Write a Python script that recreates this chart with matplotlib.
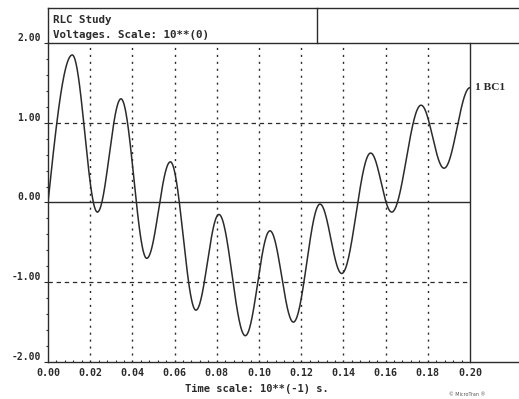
import numpy as np
import matplotlib
matplotlib.use("Agg")
import matplotlib.pyplot as plt
from matplotlib.lines import Line2D

# Extrema of the BC1 voltage trace (time in 10**-1 s, voltage in V)
extrema_t = [0.0, 0.0115, 0.0234, 0.0346, 0.0468, 0.0580, 0.0701, 0.0810, 0.0935,
             0.1052, 0.1163, 0.1289, 0.1392, 0.1529, 0.1629, 0.1768, 0.1877, 0.2000]
extrema_v = [0.0, 1.85, -0.12, 1.30, -0.70, 0.51, -1.35, -0.15, -1.67,
             -0.355, -1.50, -0.02, -0.89, 0.62, -0.12, 1.22, 0.43, 1.44]

x_ticks = [0.00, 0.02, 0.04, 0.06, 0.08, 0.10, 0.12, 0.14, 0.16, 0.18, 0.20]
x_tick_labels = ["0.00", "0.02", "0.04", "0.06", "0.08", "0.10",
                 "0.12", "0.14", "0.16", "0.18", "0.20"]
y_ticks = [-2.0, -1.0, 0.0, 1.0, 2.0]
y_tick_labels = ["-2.00", "-1.00", "0.00", "1.00", "2.00"]

INK = "#2b2b2b"
MONO = dict(family="DejaVu Sans Mono", weight="bold")

W, H = 519, 399
fig = plt.figure(figsize=(W / 100, H / 100), dpi=100)
fig.patch.set_facecolor("white")

x0, x1, ytop, ybot = 48, 470, 43, 362
ax = fig.add_axes([x0 / W, 1 - ybot / H, (x1 - x0) / W, (ybot - ytop) / H])
ax.set_xlim(0, 0.2)
ax.set_ylim(-2, 2)
for s in ax.spines.values():
    s.set_visible(False)

# smooth trace: sine rise from the origin, cosine swings between extrema
tt, vv = [], []
for i in range(len(extrema_t) - 1):
    ta, tb = extrema_t[i], extrema_t[i + 1]
    va, vb = extrema_v[i], extrema_v[i + 1]
    u = np.linspace(0, 1, 60)
    if i == 0:
        s = np.sin(u * np.pi / 2)
    else:
        s = (1 - np.cos(u * np.pi)) / 2
    tt.append(ta + (tb - ta) * u)
    vv.append(va + (vb - va) * s)
tt = np.concatenate(tt)
vv = np.concatenate(vv)

# grid
for xv in x_ticks[1:-1]:
    ax.plot([xv, xv], [-2, 2], color=INK, lw=1.0, ls=(0, (1.5, 3.5)), zorder=1)
for yv in (-1.0, 1.0):
    ax.plot([0, 0.2], [yv, yv], color=INK, lw=0.9, ls=(0, (3.5, 3)), zorder=1)
ax.plot([0, 0.2], [0, 0], color=INK, lw=1.0, zorder=2)

ax.plot(tt, vv, color=INK, lw=1.1, zorder=3)

# ticks
ax.set_xticks(x_ticks)
ax.set_xticklabels(x_tick_labels, fontsize=7.2, color=INK, **MONO)
ax.set_yticks(y_ticks)
ax.set_yticklabels(y_tick_labels, fontsize=7.0, color=INK, va="bottom", **MONO)
ax.tick_params(axis="x", length=0, pad=4)
ax.tick_params(axis="y", length=3, width=0.8, color=INK, pad=2)
ax.set_xticks(np.arange(0, 0.2001, 0.004), minor=True)
ax.set_yticks(np.arange(-2, 2.001, 0.2), minor=True)
ax.tick_params(which="minor", axis="x", length=1.5, width=0.8, color=INK, direction="in")
ax.tick_params(which="minor", axis="y", length=1.5, width=0.8, color=INK, direction="out")

def fline(xs, ys, lw=1.0):
    fig.add_artist(Line2D([x / W for x in xs], [1 - y / H for y in ys],
                          color=INK, lw=lw))

# frame: left axis, bottom axis, right border, title box
fline([x0, x0], [8, ybot])
fline([x0, W], [ybot, ybot])
fline([x1, x1], [ytop, ybot])
fline([x0, W], [ytop, ytop])
fline([x0, W], [8, 8])
fline([317, 317], [8, ytop])

fig.text(53 / W, 1 - 20 / H, "RLC Study", fontsize=7.8, color=INK,
         va="center", ha="left", **MONO)
fig.text(53 / W, 1 - 35 / H, "Voltages. Scale: 10**(0)", fontsize=7.8, color=INK,
         va="center", ha="left", **MONO)
fig.text(475 / W, 1 - 88 / H, "1 BC1", fontsize=8.2, color=INK,
         va="center", ha="left", family="Liberation Serif", weight="bold")
fig.text(257 / W, 1 - 389 / H, "Time scale: 10**(-1) s.", fontsize=7.5, color=INK,
         va="center", ha="center", **MONO)
fig.text(449 / W, 1 - 394 / H, "\u00a9 MicroTran \u00ae", fontsize=3.5, color="#555555",
         va="center", ha="left")

fig.savefig("out.png", dpi=100, facecolor="white")
